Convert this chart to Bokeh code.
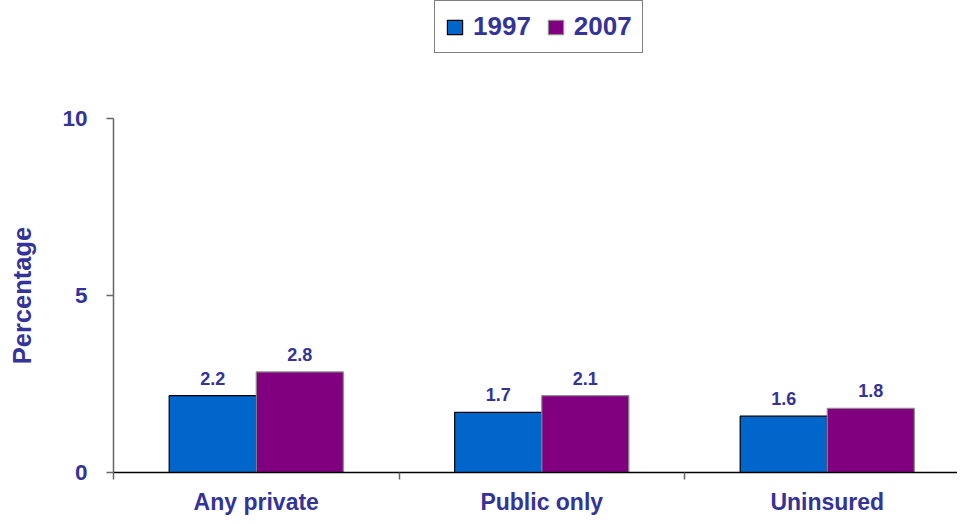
from bokeh.plotting import figure
from bokeh.layouts import column
from bokeh.models import (ColumnDataSource, Range1d, FixedTicker, Legend, LegendItem)
from bokeh.core.properties import value
from bokeh.embed import file_html
from bokeh.resources import INLINE

categories = ["Any private", "Public only", "Uninsured"]
years = ["1997", "2007"]
values_1997 = [2.17, 1.70, 1.59]
values_2007 = [2.84, 2.17, 1.81]
labels_1997 = ["2.2", "1.7", "1.6"]
labels_2007 = ["2.8", "2.1", "1.8"]
y_ticks = [0, 5, 10]

FONT = "Liberation Sans"
TXT = "#333399"
BLUE = "#0066CC"
PURPLE = "#800080"
OUT97 = "black"
OUT07 = "#8c8c8c"

W, H = 957, 517
LEG_H = 60
LEFT, TOP, BOTTOM = 113, 118 - LEG_H, 44
cat_px = 285.5
x_end = (W - LEFT) / cat_px

bar_w = 0.305
centers = [i + 0.5 for i in range(len(categories))]
x_1997 = [c - bar_w / 2 for c in centers]
x_2007 = [c + bar_w / 2 for c in centers]

src97 = ColumnDataSource(dict(x=x_1997, top=values_1997, lab=labels_1997))
src07 = ColumnDataSource(dict(x=x_2007, top=values_2007, lab=labels_2007))

# ---- main chart ----
p = figure(width=W, height=H - LEG_H, output_backend="svg", toolbar_location=None,
           title=None,
           x_range=Range1d(0, x_end), y_range=Range1d(0, 10),
           min_border_left=LEFT, min_border_right=0, min_border_top=TOP,
           min_border_bottom=BOTTOM)
p.outline_line_color = None
p.xgrid.grid_line_color = None
p.ygrid.grid_line_color = None
p.background_fill_color = "white"

p.vbar(x="x", top="top", width=bar_w, bottom=0, source=src97,
       fill_color=BLUE, line_color=OUT97, line_width=1.2)
p.vbar(x="x", top="top", width=bar_w, bottom=0, source=src07,
       fill_color=PURPLE, line_color=OUT07, line_width=1.2)

for src in (src97, src07):
    p.text(x="x", y="top", text="lab", source=src, text_align="center",
           text_baseline="bottom", y_offset=-11, text_color=TXT,
           text_font=value(FONT), text_font_style="bold", text_font_size="18px")

# x axis
xa = p.xaxis[0]
xa.ticker = FixedTicker(ticks=centers, minor_ticks=[0, 1, 2, 3])
xa.major_label_overrides = {c: n for c, n in zip(centers, categories)}
xa.major_tick_line_color = None
xa.major_tick_out = 7
xa.minor_tick_in = 0
xa.minor_tick_out = 7
xa.minor_tick_line_color = "#666666"
xa.minor_tick_line_width = 1.5
xa.axis_line_color = "black"
xa.axis_line_width = 1.5
xa.major_label_text_font = FONT
xa.major_label_text_font_style = "bold"
xa.major_label_text_font_size = "23px"
xa.major_label_text_color = TXT
xa.major_label_standoff = 9

# y axis
ya = p.yaxis[0]
ya.ticker = FixedTicker(ticks=y_ticks, minor_ticks=[])
ya.axis_line_color = "#666666"
ya.axis_line_width = 1.5
ya.major_tick_line_color = "#666666"
ya.major_tick_line_width = 1.5
ya.major_tick_in = 0
ya.major_tick_out = 7
ya.major_label_text_font = FONT
ya.major_label_text_font_style = "bold"
ya.major_label_text_font_size = "22.5px"
ya.major_label_text_color = TXT
ya.major_label_standoff = 19
ya.axis_label = "Percentage"
ya.axis_label_text_font = FONT
ya.axis_label_text_font_style = "bold"
ya.axis_label_text_font_size = "25.5px"
ya.axis_label_text_color = TXT
ya.axis_label_standoff = 23

# ---- legend strip above the chart (its bars lie outside its visible range) ----
lg = figure(width=W, height=LEG_H, output_backend="svg", toolbar_location=None,
            title=None, x_range=Range1d(0, x_end), y_range=Range1d(100, 101),
            x_axis_type=None, y_axis_type=None, min_border=0)
lg.outline_line_color = None
lg.xgrid.grid_line_color = None
lg.ygrid.grid_line_color = None
k97 = lg.vbar(x="x", top="top", width=bar_w, bottom=0, source=src97,
              fill_color=BLUE, line_color=OUT97, line_width=1.2)
k07 = lg.vbar(x="x", top="top", width=bar_w, bottom=0, source=src07,
              fill_color=PURPLE, line_color=OUT07, line_width=1.2)

legend = Legend(items=[LegendItem(label=years[0], renderers=[k97]),
                       LegendItem(label=years[1], renderers=[k07])],
                orientation="horizontal", location=(434 - LEFT, LEG_H - 53), margin=0,
                border_line_color="black", border_line_width=1.5,
                background_fill_color="white", background_fill_alpha=1,
                padding=10, spacing=15, glyph_width=19, glyph_height=18,
                label_standoff=9, label_height=26,
                label_text_font=FONT, label_text_font_style="bold",
                label_text_font_size="26px", label_text_color=TXT)
lg.add_layout(legend, "center")

layout = column(lg, p, spacing=0)
open("out.html", "w").write(file_html(layout, INLINE))
